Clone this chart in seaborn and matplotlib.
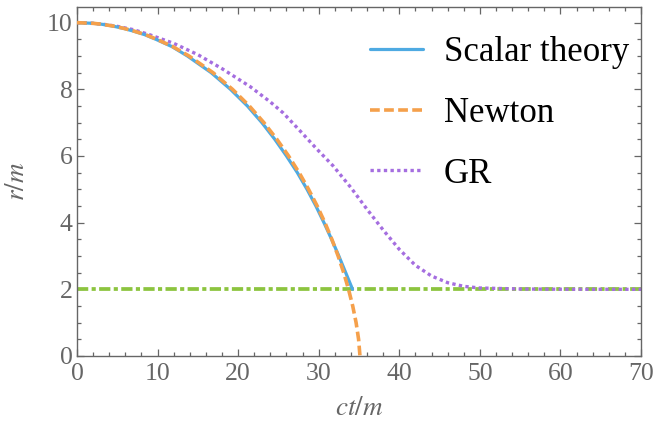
import seaborn as sns
import matplotlib.pyplot as plt
import pandas as pd
import numpy as np
from matplotlib.ticker import MultipleLocator

# Values (r/m against ct/m)
newton_ct = [0, 2, 3, 4.47, 5.8, 7.04, 8.5, 9.91, 11.9, 13.9, 16.88, 19.3,
             21.39, 23.2, 24.81, 26.26, 27.57, 28.74, 29.81, 30.77, 31.63,
             32.41, 33.10, 33.70, 34.22, 34.64, 34.95, 35.12]
newton_r = [10, 9.98, 9.955, 9.9, 9.83, 9.75, 9.64, 9.5, 9.28, 9.0, 8.5, 8.0,
            7.5, 7.0, 6.5, 6.0, 5.5, 5.0, 4.5, 4.0, 3.5,
            3.0, 2.5, 2.0, 1.5, 1.0, 0.5, 0.0]

scalar_ct = [0, 2, 3, 4.4, 5.75, 6.95, 8.4, 9.8, 11.8, 13.7, 16.65, 19.05,
             21.15, 22.95, 24.55, 26.0, 27.35, 28.55, 29.65, 30.65, 31.6,
             32.5, 33.35, 34.2]
scalar_r = [10, 9.98, 9.955, 9.9, 9.83, 9.75, 9.64, 9.5, 9.28, 9.0, 8.5, 8.0,
            7.5, 7.0, 6.5, 6.0, 5.5, 5.0, 4.5, 4.0, 3.5,
            3.0, 2.5, 2.0]

gr_ct = [0, 2, 3.5, 5, 7, 9, 12, 15, 18, 21.5, 24, 25.6, 27.7, 29.8, 31.8,
         34, 36, 38, 40, 42, 44, 46, 48, 50, 55, 60, 70]
gr_r = [10, 9.98, 9.945, 9.89, 9.79, 9.64, 9.38, 9.04, 8.62, 8.08, 7.62,
        7.29, 6.75, 6.2, 5.7, 5.05, 4.4, 3.78, 3.2, 2.72, 2.4, 2.2, 2.09,
        2.04, 2.01, 2.003, 2.0]

horizon_r = 2.0

sns.set_style("ticks")
plt.rcParams['font.family'] = ['Liberation Serif', 'DejaVu Serif']
plt.rcParams['mathtext.fontset'] = 'stix'

gray = '#666666'

fig = plt.figure(figsize=(6.7, 4.29), dpi=100)
ax = fig.add_axes([77 / 670, 73 / 429, 564 / 670, 349 / 429])

ax.axhline(horizon_r, color='#8cc43f', lw=2.7,
           linestyle=(0, (3.0, 0.9, 1.1, 0.9)), zorder=1)

sns.lineplot(x=scalar_ct, y=scalar_r, ax=ax, color='#4eaae2', lw=2.3,
             estimator=None, sort=False, label='Scalar theory', zorder=3)
sns.lineplot(x=newton_ct, y=newton_r, ax=ax, color='#f5a04b', lw=2.6,
             estimator=None, sort=False, label='Newton',
             linestyle=(0, (2.7, 1.2)), zorder=4)
sns.lineplot(x=gr_ct, y=gr_r, ax=ax, color='#a56ee0', lw=2.4,
             estimator=None, sort=False, label='GR',
             linestyle=(0, (1.0, 1.0)), zorder=2)

ax.set_xlim(0, 70)
ax.set_ylim(0, 10.47)
ax.xaxis.set_major_locator(MultipleLocator(10))
ax.xaxis.set_minor_locator(MultipleLocator(2))
ax.yaxis.set_major_locator(MultipleLocator(2))
ax.yaxis.set_minor_locator(MultipleLocator(0.5))

ax.tick_params(which='both', direction='in', top=True, right=True,
               color=gray, width=0.9, labelcolor=gray, labelsize=18.5, pad=3)
ax.tick_params(which='major', length=5)
ax.tick_params(which='minor', length=3)
ax.tick_params(axis='x', pad=5)
for side in ax.spines.values():
    side.set_color(gray)
    side.set_linewidth(1.0)

ax.set_xlabel('$ct/m$', color=gray, fontsize=19.5, labelpad=8)
ax.set_ylabel('$r/m$', color=gray, fontsize=19.5, labelpad=12)

leg = ax.legend(loc='upper right', frameon=False, fontsize=25,
                handlelength=1.52, handletextpad=0.6, labelspacing=0.8,
                borderaxespad=0, borderpad=0,
                bbox_to_anchor=(629 / 670, (429 - 36) / 429),
                bbox_transform=fig.transFigure)
for txt in leg.get_texts():
    txt.set_color('black')

fig.savefig("out.png", dpi=100)
